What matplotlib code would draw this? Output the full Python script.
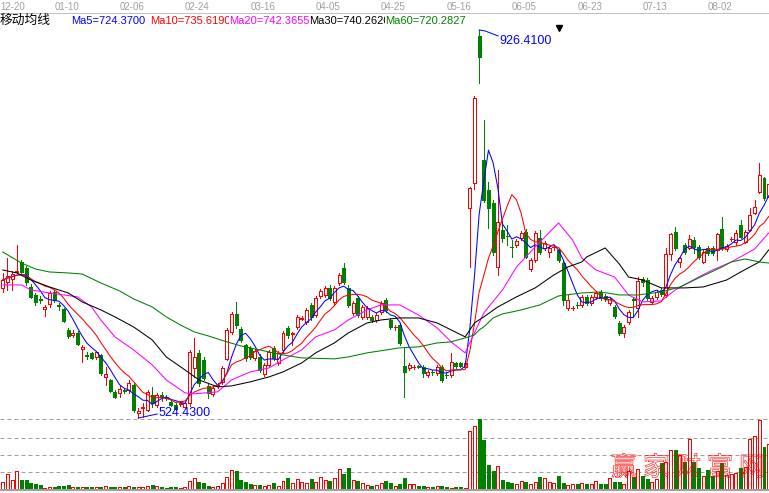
import numpy as np
import pandas as pd
import matplotlib
matplotlib.use("Agg")
import matplotlib.pyplot as plt
import matplotlib.patheffects as pe
from matplotlib.lines import Line2D
from matplotlib import transforms

# daily bars, oldest first
opens = [
    659.2, 665.4, 668.5, 675.7, 686.1, 679.9, 660.2, 651.9, 647.8, 637.4,
    642.6, 655.0, 641.6, 637.4, 615.7, 610.5, 612.6, 596.0, 589.8, 591.9,
    587.7, 589.8, 567.0, 563.9, 551.5, 550.5, 553.6, 553.6, 558.8, 529.8,
    535.0, 532.9, 548.4, 538.1, 548.4, 546.4, 541.2, 538.1, 539.1, 536.0,
    540.2, 576.3, 591.9, 584.6, 557.7, 549.5, 557.7, 561.9, 585.7, 613.6,
    632.3, 616.7, 600.2, 597.1, 586.7, 587.7, 570.1, 579.4, 597.1, 581.5,
    595.0, 617.8, 611.6, 618.8, 627.1, 624.0, 641.6, 631.2, 650.9, 651.9,
    659.2, 644.7, 664.3, 679.9, 659.2, 633.3, 648.8, 629.2, 629.2, 629.2,
    626.0, 634.3, 646.7, 626.0, 618.3, 620.9, 578.4, 576.3, 577.0, 578.4,
    577.4, 569.1, 572.6, 571.2, 577.4, 569.5, 569.1, 581.5, 581.5, 577.4,
    742.0, 767.9, 920.2, 791.7, 760.7, 747.2, 680.9, 719.2, 713.4, 701.9,
    703.7, 710.9, 717.2, 678.8, 688.1, 710.9, 700.6, 696.4, 701.2, 698.5,
    685.0, 638.5, 638.1, 641.6, 641.6, 649.9, 643.6, 649.9, 655.0, 650.9,
    643.6, 639.5, 622.9, 612.6, 624.0, 647.2, 638.5, 668.5, 667.4, 644.7,
    649.9, 657.1, 651.9, 694.4, 717.2, 686.1, 703.7, 700.6, 708.9, 701.6,
    686.1, 700.6, 700.6, 698.5, 720.3, 699.5, 709.5, 706.8, 724.4, 706.8,
    719.2, 736.8, 758.6, 773.1, 753.4,
]
highs = [
    674.7, 690.2, 676.7, 703.7, 688.1, 681.9, 663.3, 654.0, 650.9, 641.6,
    656.1, 657.1, 643.6, 638.5, 617.8, 615.7, 614.7, 600.2, 592.9, 592.9,
    594.0, 590.8, 577.4, 565.0, 553.6, 557.7, 555.7, 563.9, 560.8, 535.0,
    540.2, 553.6, 556.7, 550.5, 551.5, 548.4, 543.3, 540.2, 542.2, 541.2,
    595.0, 607.4, 595.0, 587.7, 559.8, 557.7, 560.8, 578.4, 617.8, 634.3,
    644.7, 618.8, 601.2, 599.1, 596.0, 590.8, 581.5, 595.0, 599.1, 594.0,
    614.7, 619.8, 613.6, 631.2, 630.2, 638.5, 643.6, 650.9, 658.1, 661.2,
    662.3, 661.2, 674.7, 685.0, 662.3, 645.7, 650.9, 641.6, 640.5, 631.2,
    633.3, 645.7, 648.8, 628.1, 620.9, 622.9, 597.1, 581.5, 579.4, 579.4,
    579.4, 574.3, 574.3, 579.4, 579.4, 572.2, 591.9, 582.6, 582.6, 583.6,
    763.5, 858.0, 926.41, 833.2, 769.0, 750.3, 781.4, 727.5, 724.4, 708.9,
    709.9, 718.2, 720.3, 690.2, 718.2, 719.2, 707.8, 702.6, 703.7, 700.6,
    687.1, 651.9, 640.5, 644.7, 651.9, 651.9, 651.9, 656.1, 657.1, 652.9,
    649.9, 641.6, 625.0, 620.9, 636.4, 649.9, 670.5, 670.5, 669.5, 650.9,
    657.1, 659.2, 700.6, 716.1, 722.3, 691.2, 705.8, 714.0, 712.0, 703.7,
    698.5, 702.6, 702.6, 716.1, 732.7, 704.7, 712.0, 719.2, 729.6, 719.2,
    742.0, 750.3, 788.6, 774.1, 771.0,
]
lows = [
    655.0, 657.1, 657.1, 674.7, 673.6, 662.3, 648.8, 641.6, 643.6, 630.2,
    639.5, 644.7, 636.4, 624.0, 607.4, 608.5, 600.2, 582.6, 585.7, 585.7,
    585.7, 569.1, 558.8, 551.5, 545.3, 546.4, 550.5, 550.5, 530.9, 524.43,
    525.7, 531.9, 536.0, 536.0, 542.2, 543.3, 537.1, 532.9, 537.1, 535.0,
    537.1, 567.0, 557.7, 563.9, 545.3, 547.4, 555.7, 559.8, 584.6, 611.6,
    617.8, 603.3, 583.6, 585.7, 584.6, 572.2, 568.1, 577.4, 584.6, 579.4,
    592.9, 607.4, 600.2, 616.7, 626.0, 621.9, 626.0, 629.2, 648.8, 649.9,
    646.7, 642.6, 662.3, 663.3, 639.5, 631.2, 629.2, 627.1, 627.1, 624.0,
    624.0, 632.3, 634.3, 616.7, 615.7, 600.2, 546.4, 574.3, 575.3, 576.3,
    567.0, 567.0, 569.1, 569.1, 561.9, 566.0, 567.0, 576.3, 577.4, 576.3,
    680.9, 761.7, 871.5, 748.2, 721.3, 693.3, 672.6, 706.8, 703.7, 691.2,
    701.6, 708.9, 690.2, 676.7, 686.1, 694.4, 698.5, 691.2, 698.5, 686.1,
    641.6, 636.4, 636.4, 638.5, 639.5, 641.6, 641.6, 647.8, 646.7, 645.7,
    641.6, 628.1, 610.5, 608.5, 621.9, 630.2, 629.2, 661.2, 646.7, 642.6,
    647.8, 650.9, 649.9, 688.1, 698.5, 680.9, 694.4, 699.5, 695.4, 689.2,
    685.0, 693.3, 693.3, 688.1, 698.5, 697.5, 707.8, 703.7, 711.0, 705.8,
    718.2, 735.8, 757.6, 750.3, 752.4,
]
closes = [
    667.4, 671.6, 673.6, 676.7, 675.7, 665.4, 649.9, 644.7, 646.7, 639.5,
    654.0, 646.7, 640.5, 625.0, 609.5, 612.6, 601.2, 598.1, 588.8, 586.7,
    592.9, 571.2, 570.1, 552.6, 546.4, 554.6, 552.6, 560.8, 532.9, 531.9,
    536.0, 551.5, 540.2, 548.4, 546.4, 545.3, 538.1, 534.0, 540.2, 540.2,
    592.9, 587.7, 560.8, 566.0, 550.5, 555.7, 558.8, 576.3, 615.7, 632.3,
    620.9, 605.3, 586.7, 587.7, 594.0, 574.3, 579.4, 592.9, 586.7, 591.9,
    612.6, 610.5, 612.6, 629.2, 628.1, 636.4, 629.2, 648.8, 656.1, 659.2,
    648.8, 659.2, 672.6, 665.4, 641.6, 643.6, 631.2, 639.5, 638.5, 626.0,
    631.2, 643.6, 636.4, 618.8, 618.8, 602.2, 572.2, 579.4, 577.4, 577.4,
    571.2, 572.2, 572.2, 577.4, 563.9, 569.1, 582.6, 578.4, 578.4, 581.5,
    762.7, 856.0, 898.4, 750.3, 742.0, 696.4, 727.5, 710.9, 713.0, 701.6,
    707.8, 716.1, 691.2, 688.1, 716.1, 696.4, 705.8, 700.6, 701.6, 688.1,
    646.7, 646.7, 638.5, 641.2, 649.9, 643.6, 649.9, 654.0, 648.8, 647.8,
    647.8, 630.2, 612.6, 618.8, 634.3, 646.7, 666.4, 665.4, 648.8, 648.8,
    655.0, 653.0, 694.4, 715.1, 700.6, 690.2, 696.4, 709.9, 701.6, 691.2,
    696.4, 695.4, 695.4, 715.1, 700.6, 702.6, 709.9, 716.1, 712.0, 717.2,
    734.8, 743.0, 776.2, 752.4, 766.9,
]
volumes = [
    7300, 15000, 9000, 18000, 9000, 9000, 6300, 5000, 3700, 1000,
    2000, 2000, 2700, 3000, 4000, 2000, 2000, 2000, 2000, 2000,
    2000, 2000, 3000, 2000, 2000, 2000, 2000, 3000, 2000, 2000,
    2000, 3000, 4000, 3300, 1700, 1000, 2000, 2000, 1000, 2000,
    8000, 10700, 7000, 5700, 3000, 2000, 3000, 6000, 11700, 19000,
    18000, 9300, 7300, 5000, 4000, 4000, 3000, 4000, 6000, 3000,
    8000, 11000, 6000, 9700, 7300, 5700, 10000, 7000, 11700, 9000,
    8000, 11300, 20000, 15000, 21000, 9000, 8000, 5700, 4000, 3000,
    4000, 5700, 8000, 5700, 3300, 5000, 10700, 4700, 4700, 3000,
    3000, 2000, 2000, 3000, 3000, 2000, 1000, 2000, 2000, 1000,
    58000, 63000, 69700, 49000, 24000, 18300, 23000, 9000, 7000, 6000,
    5000, 8000, 7000, 5000, 7000, 12000, 11000, 7000, 6000, 13000,
    6000, 4000, 5000, 5000, 6000, 5000, 5000, 8000, 5000, 5000,
    11000, 7000, 7000, 5000, 18000, 12000, 20000, 13000, 10000, 7000,
    10000, 26000, 27000, 39000, 39000, 34000, 27000, 50000, 27000, 20700,
    12700, 19000, 13000, 18000, 26000, 14000, 15000, 15700, 20700, 22000,
    50000, 53000, 69000, 42000, 45000,
]

# longer averages, read at sampled bars
ma20_idx = [0, 4, 6, 10, 16, 19, 21, 24, 28, 32, 35, 39, 41, 46, 49, 53, 57, 60, 64, 67,
            71, 74, 78, 81, 85, 89, 93, 96, 99, 101, 103, 107, 110, 114, 119, 122, 124, 127,
            131, 134, 137, 141, 144, 149, 152, 156, 161, 164]
ma20_val = [662.3, 662.3, 657.1, 654.0, 649.9, 639.5, 626.0, 608.5, 595.0, 579.4,
            563.9, 550.5, 549.5, 551.5, 563.9, 572.2, 576.3, 584.6, 595.0, 608.5,
            615.7, 626.0, 636.4, 641.6, 641.6, 631.2, 617.8, 603.3, 591.9, 612.6,
            633.3, 657.1, 680.9, 701.6, 726.5, 708.9, 690.2, 677.8, 670.5, 651.9,
            644.7, 645.7, 657.1, 670.5, 677.8, 686.1, 699.5, 716.1]
ma30_idx = [0, 3, 6, 10, 14, 17, 21, 24, 28, 32, 35, 39, 42, 46, 49, 53, 57, 60, 64, 67,
            71, 74, 78, 81, 85, 89, 93, 96, 99, 101, 103, 106, 110, 114, 118, 121, 124, 125,
            129, 132, 134, 137, 141, 146, 150, 155, 158, 162, 164]
ma30_val = [677.8, 674.7, 667.4, 660.2, 654.0, 644.7, 636.4, 629.2, 618.8, 605.3,
            587.7, 574.3, 563.9, 556.7, 557.7, 561.9, 567.0, 572.2, 581.5, 591.9,
            602.2, 612.6, 622.9, 626.0, 628.1, 628.1, 622.9, 615.7, 608.5, 622.9,
            629.2, 639.5, 649.9, 659.2, 672.6, 680.9, 686.1, 691.2, 700.6, 684.0,
            670.5, 667.4, 659.2, 659.2, 660.2, 667.4, 675.7, 686.1, 698.5]
ma60_idx = [0, 4, 7, 10, 14, 17, 21, 25, 28, 32, 35, 38, 41, 44, 48, 51, 55, 60, 64, 71,
            74, 78, 85, 89, 93, 96, 99, 101, 102, 103, 105, 107, 109, 111, 115, 119, 124, 128,
            132, 136, 141, 145, 149, 154, 156, 159, 162, 164]
ma60_val = [696.4, 685.0, 678.8, 675.7, 674.7, 673.6, 664.3, 656.1, 647.8, 639.5,
            629.2, 620.9, 613.6, 609.5, 603.3, 599.1, 595.0, 589.8, 586.7, 585.7,
            587.7, 591.9, 597.1, 598.1, 602.2, 603.3, 607.4, 610.5, 615.7, 618.8,
            628.1, 632.3, 634.3, 636.4, 641.6, 650.9, 654.0, 655.0, 651.9, 651.9,
            655.0, 660.2, 669.5, 680.9, 686.1, 689.2, 686.1, 685.0]

ma_names = ["Ma5", "Ma10", "Ma20", "Ma30", "Ma60"]
ma_readout = [724.37, 735.619, 742.3655, 740.262, 720.2827]

tick_pos = [0, 11, 25, 39, 53, 67, 81, 95, 109, 123, 137, 151]
tick_labels = ["12-20", "01-10", "02-06", "02-24", "03-16", "04-05",
               "04-25", "05-16", "06-05", "06-23", "07-13", "08-02"]

watermark = "赢家财富网"

RED = "#ff0000"
GREEN = "#008000"
BLUE = "#0000ff"
PINK = "#ff00ff"
GRAY = "#a0a0a0"
ma_colors = [BLUE, RED, PINK, "black", GREEN]
LW = 0.72   # one pixel at 100 dpi

W, H = 769, 493
fig = plt.figure(figsize=(W / 100, H / 100), dpi=100)
fig.patch.set_facecolor("white")


def band(top, bottom):
    return [0, 1 - bottom / H, 1, (bottom - top) / H]


ax = fig.add_axes(band(13, 419))
axv = fig.add_axes(band(419, 489))
for a in (ax, axv):
    a.set_axis_off()
    a.set_xlim(-0.6, 164.07)
ax.set_ylim(523.4, 944.0)
vmax = max(volumes)
axv.set_ylim(0, vmax * 1.004)

o = np.array(opens)
h = np.array(highs)
l = np.array(lows)
c = np.array(closes)
x = np.arange(len(c))
up = c >= o
edge = np.where(up, RED, GREEN)
face = np.where(up, "white", GREEN)
BW = 0.64

# candles: wick first, body on top (white body hides the wick for up days)
ax.vlines(x, l, h, colors=edge, lw=LW, antialiased=False, zorder=2)
ax.bar(x, np.maximum(np.abs(c - o), 0.3), bottom=np.minimum(o, c), width=BW,
       color=face, edgecolor=edge, linewidth=LW, antialiased=False, zorder=3)

# moving averages
s = pd.Series(c)
ma5 = s.rolling(5, min_periods=1).mean()
ma10 = s.rolling(10, min_periods=1).mean()
line_kw = dict(lw=0.75, zorder=4)
ax.plot(x, ma5, color=BLUE, **line_kw)
ax.plot(x, ma10, color=RED, **line_kw)
ax.plot(ma20_idx, ma20_val, color=PINK, **line_kw)
ax.plot(ma30_idx, ma30_val, color="black", **line_kw)
ax.plot(ma60_idx, ma60_val, color=GREEN, **line_kw)

# high / low markers
hi_i = int(np.argmax(h))
lo_i = int(np.argmin(l))
px_x, px_y = 4.67, 1.036   # bar units and price per pixel
ax.plot([hi_i, hi_i + 6 / px_x, hi_i + 19 / px_x],
        [h[hi_i], h[hi_i] - 1 * px_y, h[hi_i] - 6 * px_y], color=BLUE, lw=LW, zorder=5)
ax.text(hi_i + 20 / px_x, h[hi_i] - 11 * px_y, f"{h[hi_i]:.4f}", color=BLUE,
        fontsize=9, va="center", ha="left", family="Liberation Sans", zorder=5)
ax.plot([lo_i, lo_i + 19 / px_x], [l[lo_i], l[lo_i] + 4 * px_y], color=BLUE, lw=LW, zorder=5)
ax.text(lo_i + 20 / px_x, l[lo_i] + 5.5 * px_y, f"{l[lo_i]:.4f}", color=BLUE,
        fontsize=9, va="center", ha="left", family="Liberation Sans", zorder=5)

# volume
axv.bar(x, volumes, width=BW, color=face, edgecolor=edge, linewidth=LW,
        antialiased=False, zorder=3)
for frac in (0.25, 0.49, 0.73, 1.0):
    axv.axhline(vmax * frac, color=GRAY, lw=LW, dashes=(4, 3), clip_on=False, zorder=1)
fig.add_artist(Line2D([0, 1], [1 - 490 / H] * 2, color=GRAY, lw=1.5))

# date strip
fig.add_artist(Line2D([0, 1], [1 - 12.5 / H] * 2, color="#c0c0c0", lw=LW))
date_tr = transforms.blended_transform_factory(ax.transData, fig.transFigure)
for p, lab in zip(tick_pos, tick_labels):
    ax.text(p if p else -0.6, 1 - 6.5 / H, lab, transform=date_tr, fontsize=7,
            color=GRAY, ha="left", va="center", family="Liberation Sans")

# legend strip; each entry overlays the tail of the previous one
fig.text(0, 1 - 20 / H, "移动均线", fontsize=9.2, va="center", ha="left",
         family=["Noto Sans CJK SC", "DejaVu Sans"])
for k, (name, val, col) in enumerate(zip(ma_names, ma_readout, ma_colors)):
    x0 = [71, 150, 229, 309, 385][k]
    fig.text(x0 / W, 1 - 21 / H, f"{name}={val:.4f}", color=col, fontsize=8,
             va="center", ha="left", family="Liberation Sans", zorder=10 + k,
             bbox=dict(boxstyle="square,pad=0", fc="white", ec="none"))

ax.plot([(559 - 2.8) / px_x], [944.0 - 15 * px_y], marker="v", color="black",
        markersize=4, clip_on=False, zorder=6)

# site watermark across the volume panel, drawn as thin outlines
for k, ch in enumerate(watermark):
    fig.text((624 + 32 * k) / W, 1 - 468 / H, ch, fontsize=19, color=(1, 1, 1, 0),
             ha="center", va="center", family=["Noto Sans CJK SC", "DejaVu Sans"],
             fontweight="light",
             path_effects=[pe.Stroke(linewidth=0.4, foreground=RED)], zorder=20)

fig.savefig("out.png", dpi=100, facecolor="white")
